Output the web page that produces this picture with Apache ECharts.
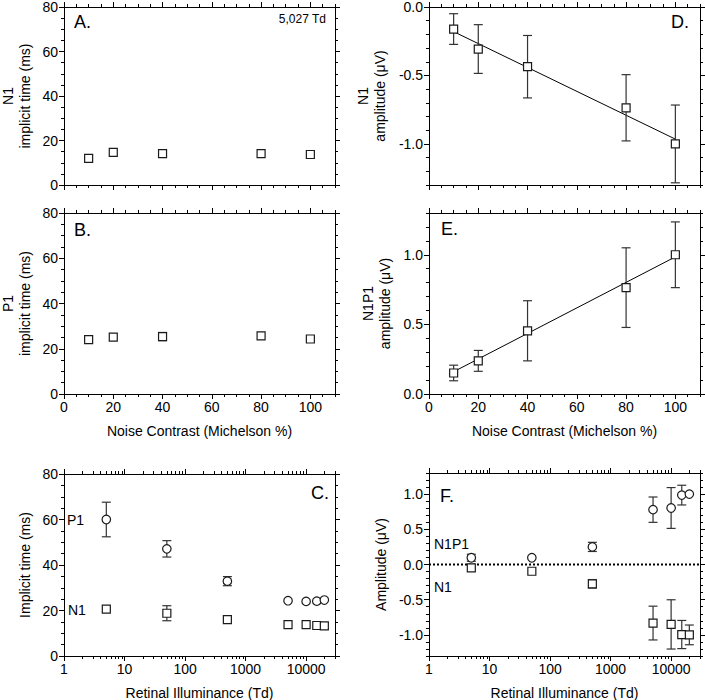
<!DOCTYPE html>
<html><head><meta charset="utf-8">
<script src="https://cdn.jsdelivr.net/npm/echarts@6/dist/echarts.min.js"></script>
<style>html,body{margin:0;padding:0;background:#fff}#c{width:705px;height:700px}</style>
</head><body><div id="c"></div>
<script>
// ---------- data ----------
const contrast = [10, 20, 40, 80, 100];
const aN1Time = [12.0, 14.7, 14.1, 14.1, 13.7];
const bP1Time = [24.0, 25.1, 25.4, 25.7, 24.3];
const bP1Err = [0, 0, 1.8, 0, 0];
const illum = [5, 50, 500, 5027, 10000, 15000, 20000];
const cP1Time = [60.0, 47.1, 32.9, 24.3, 24.0, 24.1, 24.6];
const cP1Err = [7.6, 3.6, 2.0, 0, 0, 0, 0];
const cN1Time = [20.6, 18.8, 16.0, 13.8, 13.8, 13.4, 13.2];
const cN1Err = [0, 3.3, 0, 0, 0, 0, 0];
const dN1Amp = [-0.161, -0.307, -0.436, -0.736, -1.0];
const dN1Err = [0.112, 0.178, 0.228, 0.242, 0.284];
const fitX = [10, 100];
const dFitY = [-0.18, -0.965];
const eN1P1Amp = [0.151, 0.238, 0.454, 0.764, 1.0];
const eN1P1Err = [0.056, 0.075, 0.216, 0.286, 0.236];
const eFitY = [0.16, 0.985];
const fN1P1Amp = [0.096, 0.096, 0.25, 0.779, 0.803, 0.986, 1.0];
const fN1P1Err = [0.05, 0, 0.065, 0.18, 0.29, 0.14, 0];
const fN1Amp = [-0.048, -0.096, -0.274, -0.832, -0.851, -0.995, -1.0];
const fN1Err = [0, 0, 0.06, 0.24, 0.35, 0.2, 0.14];
const zeroX = [1, 30000];
const zeroY = [0, 0];
// tick labels
const contrastTicks = [0, 20, 40, 60, 80, 100];
const timeTicks = [0, 20, 40, 60, 80];
const illumTicks = [1, 10, 100, 1000, 10000];
const dAmpTicks = [-1.0, -0.5, 0.0];
const eAmpTicks = [0.0, 0.5, 1.0];
const fAmpTicks = [-1.0, -0.5, 0.0, 0.5, 1.0];

// ---------- helpers ----------
const FONT = '"Liberation Sans", Arial, Helvetica, sans-serif';
const INK = '#000';
function steps(min, max, step, exclude) {
  const out = [];
  for (let i = Math.round(min / step); i <= Math.round(max / step); i++) {
    const v = Math.round(i * step * 1e6) / 1e6;
    if (!exclude.some(e => Math.abs(e - v) < 1e-9)) out.push(v);
  }
  return out;
}
function logMinor(max) {
  const out = [];
  for (let d = 1; d <= max; d *= 10)
    for (let k = 2; k <= 9; k++) if (d * k <= max) out.push(d * k);
  return out;
}
function makeAxes(dim, gi, o) {
  const pos = dim === 'x' ? ['bottom', 'top'] : ['left', 'right'];
  const base = {type: o.type, gridIndex: gi, min: o.min, max: o.max,
    splitLine: {show: false}, minorTick: {show: false}, minorSplitLine: {show: false},
    axisPointer: {show: false}, silent: true};
  if (o.type === 'log') base.logBase = 10;
  const tickStyle = {color: INK, width: 1};
  const axes = [];
  pos.forEach((p, pi) => {
    const main = Object.assign({}, base, {
      position: p, offset: 0,
      axisLine: {show: true, onZero: false, lineStyle: {color: INK, width: 1}},
      axisTick: {show: true, inside: false, length: 5, customValues: o.major, lineStyle: tickStyle},
      axisLabel: (pi === 0 && o.labels) ? {show: true, customValues: o.labels, formatter: o.fmt,
        margin: 6, fontSize: 14, color: INK, fontFamily: FONT} : {show: false}
    });
    if (pi === 0 && o.name) {
      Object.assign(main, {name: o.name, nameLocation: 'middle', nameGap: o.nameGap,
        nameRotate: dim === 'y' ? 90 : 0,
        nameTextStyle: {fontSize: 14, color: INK, fontFamily: FONT, lineHeight: 17}});
    }
    axes.push(main);
    axes.push(Object.assign({}, base, {
      position: p, offset: 0,
      axisLine: {show: false, onZero: false},
      axisTick: {show: true, inside: false, length: 3, customValues: o.minor, lineStyle: tickStyle},
      axisLabel: {show: false}
    }));
  });
  return axes;
}
const intFmt = v => String(Math.round(v));
const decFmt = v => Number(v).toFixed(1);
const logFmt = v => String(Math.round(v));

const linX = (labels, name) => ({type: 'value', min: 0, max: 110, major: contrastTicks,
  minor: steps(0, 110, 5, contrastTicks), labels: labels, fmt: intFmt, name: name, nameGap: 28});
const logX = {type: 'log', min: 1, max: 30000, major: illumTicks, minor: logMinor(30000),
  labels: illumTicks, fmt: logFmt, name: 'Retinal Illuminance (Td)', nameGap: 28};
const timeY = (name) => ({type: 'value', min: 0, max: 80, major: timeTicks,
  minor: steps(0, 80, 5, timeTicks), labels: timeTicks, fmt: intFmt, name: name, nameGap: 31});

const panels = [
  {grid: {left: 64, top: 7, width: 271, height: 178}, x: linX(null, ''), y: timeY('N1\nimplicit time (ms)')},
  {grid: {left: 64, top: 213, width: 271, height: 181}, x: linX(contrastTicks, 'Noise Contrast (Michelson %)'), y: timeY('P1\nimplicit time (ms)')},
  {grid: {left: 64, top: 474, width: 271, height: 182}, x: logX, y: timeY('Implicit time (ms)')},
  {grid: {left: 429, top: 7, width: 271, height: 178}, x: linX(null, ''),
    y: {type: 'value', min: -1.3, max: 0, major: dAmpTicks, minor: steps(-1.3, 0, 0.1, dAmpTicks),
      labels: dAmpTicks, fmt: decFmt, name: 'N1\namplitude (μV)', nameGap: 41}},
  {grid: {left: 429, top: 213, width: 271, height: 181}, x: linX(contrastTicks, 'Noise Contrast (Michelson %)'),
    y: {type: 'value', min: 0, max: 1.3, major: eAmpTicks, minor: steps(0, 1.3, 0.1, eAmpTicks),
      labels: eAmpTicks, fmt: decFmt, name: 'N1P1\namplitude (μV)', nameGap: 36}},
  {grid: {left: 429, top: 473, width: 271, height: 183}, x: logX,
    y: {type: 'value', min: -1.3, max: 1.3, major: fAmpTicks, minor: steps(-1.3, 1.3, 0.1, fAmpTicks),
      labels: fAmpTicks, fmt: decFmt, name: 'Amplitude (μV)', nameGap: 40}}
];

const grids = [], xAxes = [], yAxes = [];
panels.forEach((p, gi) => {
  grids.push(Object.assign({containLabel: false, outerBoundsMode: 'none'}, p.grid));
  xAxes.push(...makeAxes('x', gi, p.x));
  yAxes.push(...makeAxes('y', gi, p.y));
});

function pts(xs, ys) { return xs.map((x, i) => [x, ys[i]]); }
function errPts(xs, ys, es) { return xs.map((x, i) => [x, ys[i], es[i]]); }
function errRender(params, api) {
  const x = api.value(0), y = api.value(1), e = api.value(2);
  if (!e) return null;
  const t = api.coord([x, y + e]), b = api.coord([x, y - e]);
  const hw = 4.5, st = {stroke: '#333', lineWidth: 1.2};
  return {type: 'group', children: [
    {type: 'line', shape: {x1: t[0], y1: t[1], x2: b[0], y2: b[1]}, style: st},
    {type: 'line', shape: {x1: t[0] - hw, y1: t[1], x2: t[0] + hw, y2: t[1]}, style: st},
    {type: 'line', shape: {x1: b[0] - hw, y1: b[1], x2: b[0] + hw, y2: b[1]}, style: st}
  ]};
}
const ai = gi => ({xAxisIndex: gi * 4, yAxisIndex: gi * 4});
function errSeries(gi, xs, ys, es) {
  return Object.assign({type: 'custom', renderItem: errRender, data: errPts(xs, ys, es),
    encode: {x: 0, y: 1}, z: 2, silent: true}, ai(gi));
}
function markSeries(gi, xs, ys, shape) {
  return Object.assign({type: 'scatter', data: pts(xs, ys), symbol: shape,
    symbolSize: shape === 'rect' ? 8 : 8.5,
    itemStyle: {color: '#fff', borderColor: '#1a1a1a', borderWidth: 1.2, opacity: 1},
    emphasis: {disabled: true}, z: 4, silent: true}, ai(gi));
}
function lineSeries(gi, xs, ys, dotted) {
  return Object.assign({type: 'line', data: pts(xs, ys), showSymbol: false, symbol: 'none',
    lineStyle: {color: INK, width: dotted ? 2 : 1, type: dotted ? [2, 2] : 'solid'},
    z: 1, silent: true}, ai(gi));
}

const series = [
  markSeries(0, contrast, aN1Time, 'rect'),
  errSeries(1, contrast, bP1Time, bP1Err),
  markSeries(1, contrast, bP1Time, 'rect'),
  errSeries(2, illum, cP1Time, cP1Err),
  errSeries(2, illum, cN1Time, cN1Err),
  markSeries(2, illum, cP1Time, 'circle'),
  markSeries(2, illum, cN1Time, 'rect'),
  lineSeries(3, fitX, dFitY, false),
  errSeries(3, contrast, dN1Amp, dN1Err),
  markSeries(3, contrast, dN1Amp, 'rect'),
  lineSeries(4, fitX, eFitY, false),
  errSeries(4, contrast, eN1P1Amp, eN1P1Err),
  markSeries(4, contrast, eN1P1Amp, 'rect'),
  lineSeries(5, zeroX, zeroY, true),
  errSeries(5, illum, fN1P1Amp, fN1P1Err),
  errSeries(5, illum, fN1Amp, fN1Err),
  markSeries(5, illum, fN1P1Amp, 'circle'),
  markSeries(5, illum, fN1Amp, 'rect')
];

function txt(text, x, y, size, align) {
  return {type: 'text', x: x, y: y, z: 10, silent: true,
    style: {text: text, fontSize: size, fontFamily: FONT, fill: INK, align: align || 'left', verticalAlign: 'middle'}};
}
const graphic = [
  txt('A.', 74, 22, 18), txt('5,027 Td', 326, 19, 12, 'right'),
  txt('B.', 74, 230, 18),
  txt('C.', 329, 493, 18, 'right'), txt('P1', 67, 520, 14), txt('N1', 68, 610, 14),
  txt('D.', 689, 22, 18, 'right'),
  txt('E.', 441, 229, 18),
  txt('F.', 440, 496, 18), txt('N1P1', 434, 544, 14), txt('N1', 434, 587, 14)
];

const chart = echarts.init(document.getElementById('c'), null, {renderer: 'svg'});
chart.setOption({
  animation: false, backgroundColor: '#fff',
  textStyle: {fontFamily: FONT},
  grid: grids, xAxis: xAxes, yAxis: yAxes, series: series, graphic: graphic
});
</script></body></html>
